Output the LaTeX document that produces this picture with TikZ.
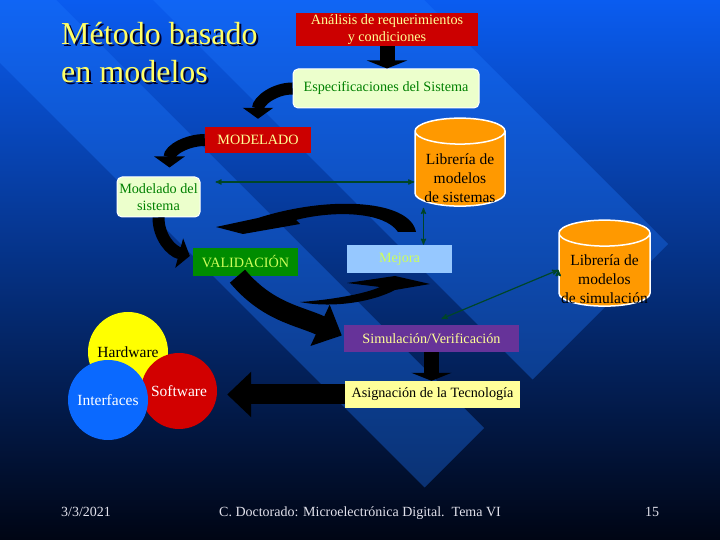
\documentclass[tikz,border=0pt]{standalone}
\usepackage{fontspec}
\setmainfont{Liberation Serif}
\usepackage{tikz}
\usetikzlibrary{arrows, arrows.meta, shapes.geometric, positioning}

\definecolor{bgtop}{RGB}{10,92,240}
\definecolor{bgmid}{RGB}{0,64,196}
\definecolor{bgbot}{RGB}{0,5,20}
\definecolor{bandblue}{RGB}{30,120,255}
\definecolor{boxred}{RGB}{204,0,0}
\definecolor{paleyellow}{RGB}{255,255,150}
\definecolor{specfill}{RGB}{236,255,204}
\definecolor{specgreen}{RGB}{0,128,0}
\definecolor{validgreen}{RGB}{0,140,0}
\definecolor{limetext}{RGB}{205,255,90}
\definecolor{mejorafill}{RGB}{150,200,255}
\definecolor{simpurple}{RGB}{102,51,153}
\definecolor{asigfill}{RGB}{255,255,153}
\definecolor{liborange}{RGB}{255,153,0}
\definecolor{linkgreen}{RGB}{0,70,40}
\definecolor{hwyellow}{RGB}{255,255,0}
\definecolor{swred}{RGB}{210,0,0}
\definecolor{ifblue}{RGB}{10,105,255}
\definecolor{titleyellow}{RGB}{255,255,102}
\definecolor{titleshadow}{RGB}{0,0,45}
\definecolor{footgray}{RGB}{225,225,235}

\tikzset{
	box/.style={rectangle, inner sep=0pt, align=center, font=\fontsize{14.2}{17}\selectfont}, % plain label box
	redbox/.style={box, fill=boxred, text=paleyellow}, % red stages
	greenbox/.style={box, fill=specfill, draw=white, line width=1pt, rounded corners=5pt, text=specgreen}, % pale rounded boxes
	library/.style={cylinder, shape border rotate=90, aspect=0.3, draw=white, line width=1.5pt,
		cylinder uses custom fill, cylinder body fill=liborange, cylinder end fill=liborange,
		inner sep=0pt, font=\fontsize{15.5}{19}\selectfont}, % model libraries
	libtext/.style={align=center, inner sep=0pt, font=\fontsize{15.5}{19}\selectfont}, % text on the libraries
	blob/.style={circle, inner sep=0pt, minimum size=80pt, font=\fontsize{15.5}{18}\selectfont}, % venn circles
	titletext/.style={anchor=base west, inner sep=0pt, font=\fontsize{32}{38}\selectfont}, % slide title
	foot/.style={anchor=base, inner sep=0pt, text=footgray, font=\fontsize{14}{16}\selectfont}, % footer
	stepflow/.style={line width=15pt, -{Triangle[width=40pt,length=8pt]}}, % short straight arrows
	bendflow/.style={line width=12pt, -{Triangle[width=30pt,length=11pt]}}, % bent arrows
	bigflow/.style={line width=20pt, -{Triangle[width=44pt,length=24pt]}}, % large arrows
	link/.style={<->, >=stealth', draw=linkgreen, line width=1.2pt}, % library links
}

\begin{document}
\begin{tikzpicture}[x=1pt, y=1pt]
	\useasboundingbox (0,0) rectangle (720,540);
	% Background
	\shade[top color=bgtop, middle color=bgmid, bottom color=bgbot] (0,0) rectangle (720,540);
	\fill[bandblue, opacity=0.35] (153,540) -- (424,540) -- (668,296) -- (532.5,160.5) -- cycle;
	\fill[bandblue, opacity=0.35] (0,540) -- (56,540) -- (484,112) -- (424.5,52.5) -- (0,477) -- cycle;

	% Title
	\node[titletext, text=titleshadow] (tshadowa) at (63,493) {Método basado};
	\node[titletext, text=titleshadow] (tshadowb) at (63,455) {en modelos};
	\node[titletext, text=titleyellow] (titlea) at (61,495) {Método basado};
	\node[titletext, text=titleyellow] (titleb) at (61,457) {en modelos};

	% Stages
	\node[redbox, minimum width=182pt, minimum height=33pt] (req) at (387,510.5) {Análisis de requerimientos\\y condiciones};
	\node[greenbox, minimum width=186pt, minimum height=39pt] (espec) at (386,451.5) {Especificaciones del Sistema};
	\node[redbox, minimum width=106pt, minimum height=26pt] (modelado) at (258,400) {MODELADO};
	\node[greenbox, minimum width=83pt, minimum height=40pt] (modsis) at (158.5,343) {Modelado del\\sistema};
	\node[box, fill=validgreen, text=limetext, minimum width=105pt, minimum height=28pt] (valid) at (245.5,278) {VALIDACIÓN};
	\node[box, fill=mejorafill, text=limetext, minimum width=105pt, minimum height=28pt] (mejora) at (399.5,281) {Mejora};
	\node[box, fill=simpurple, text=paleyellow, minimum width=175pt, minimum height=27pt] (sim) at (431.5,201.5) {Simulación/Verificación};
	\node[box, fill=asigfill, text=black, minimum width=175pt, minimum height=27pt] (asig) at (432.5,145.5) {Asignación de la Tecnología};

	% Libraries
	\node[library, minimum width=90pt, minimum height=88pt] (libsis) at (460,371) {\phantom{de simulación}};
	\node[libtext] (libsistext) at ([yshift=-9.5pt]libsis.center) {Librería de\\modelos\\de sistemas};
	\node[library, minimum width=91pt, minimum height=86pt] (libsim) at (604.5,270) {\phantom{de simulación}};
	\node[libtext] (libsimtext) at ([yshift=-9pt]libsim.center) {Librería de\\modelos\\de simulación};

	% Hardware / Software / Interfaces
	\node[blob, fill=hwyellow, text=black] (hw) at (128,188) {Hardware};
	\node[blob, fill=swred, text=white, minimum size=76pt] (sw) at (179,149) {Software};
	\node[blob, fill=ifblue, text=white] (intf) at (108,140) {Interfaces};

	% Flow arrows
	\draw[stepflow] (req.south) -- (req.south |- espec.north);
	\draw[bendflow] (espec.west) to[out=180, in=90] ([yshift=8pt]modelado.north);
	\draw[bendflow] (modelado.west) to[out=180, in=90] ([xshift=11pt, yshift=9pt]modsis.north);
	\draw[bendflow] (modsis.south) to[out=-90, in=165] ([xshift=-3pt, yshift=6pt]valid.west);
	\draw[bigflow] ([xshift=-8pt]valid.south) to[out=-50, in=155] ([xshift=-2pt, yshift=3pt]sim.west);
	\draw[stepflow] (sim.south) -- (sim.south |- asig.north);
	\draw[bigflow] (asig.west) -- ([xshift=10pt]sw.east |- asig.west);

	% Validation cycle
	\fill[black] (416,308) .. controls (410,340) and (330,345) .. (258,322) -- (216,313) -- (243,306)
		-- (300,316) -- (296,320) .. controls (335,330) and (385,328) .. (398,308) -- cycle;
	\fill[black] (300,238) .. controls (330,240) and (365,246) .. (380,253) -- (347,257) -- (395,264)
		-- (430,256) -- (395,250) .. controls (370,237) and (330,232) .. (300,238) -- cycle;

	% Library links
	\path[link]
	(modsis.east) ++(15,15) coordinate (dl)
	(dl) edge (dl -| libsis.west)
	([xshift=24pt]mejora.north) edge ++(0,37)
	(libsim.west) edge ([xshift=10pt, yshift=6pt]sim.north);

	% Footer
	\node[foot] (fdate) at (86,23) {3/3/2021};
	\node[foot] (fcourse) at (360,23) {C. Doctorado: Microelectrónica Digital.\ \ Tema VI};
	\node[foot] (fpage) at (652,23) {15};
\end{tikzpicture}
\end{document}
